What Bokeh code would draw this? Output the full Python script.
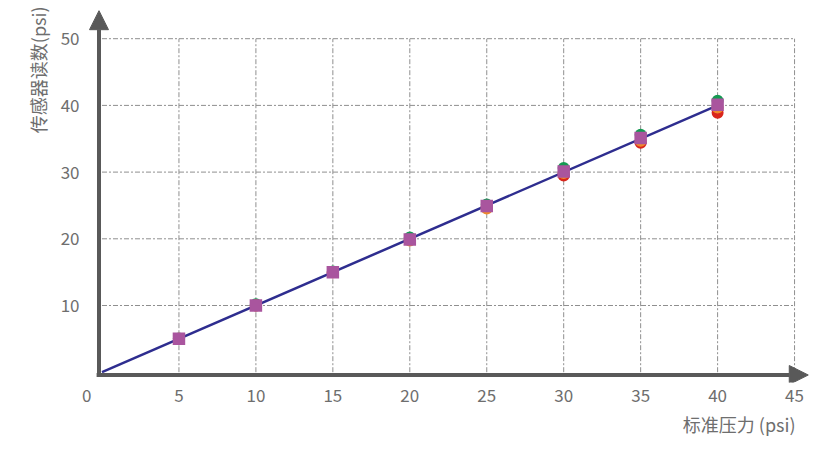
from bokeh.plotting import figure
from bokeh.models import Arrow, NormalHead, Title, FixedTicker
from bokeh.embed import file_html
from bokeh.resources import INLINE

# data
std_pressure = [5, 10, 15, 20, 25, 30, 35, 40]
sensor_green = [5.05, 10.2, 15.1, 20.2, 25.15, 30.6, 35.6, 40.7]
sensor_red = [5.0, 10.0, 15.0, 19.85, 24.8, 29.5, 34.4, 38.9]
sensor_orange = [5.0, 10.0, 15.0, 19.75, 24.55, 29.85, 34.7, 39.7]
sensor_purple = [5.0, 10.0, 15.0, 19.9, 24.9, 30.1, 35.1, 40.1]
fit_x = [0, 40]
fit_y = [0, 40]
x_ticks = [5, 10, 15, 20, 25, 30, 35, 40, 45]
y_ticks = [10, 20, 30, 40, 50]
origin_tick = -1          # position of the origin's "0" label, drawn left of the corner
x_title = "标准压力 (psi)"
y_title = "传感器读数(psi)"

FONT = "Noto Sans CJK SC"
TXT = "#6e6e6e"
AX = "#595959"

p = figure(width=812, height=445, output_backend="svg", toolbar_location=None,
           x_range=(-1.072, 46.166), y_range=(-1.544, 54.528),
           min_border_left=85, min_border_right=0, min_border_top=8, min_border_bottom=63,
           title=None)
p.outline_line_color = None
p.xgrid.visible = False
p.ygrid.visible = False

for ax, ticks in ((p.xaxis, [origin_tick] + x_ticks), (p.yaxis, y_ticks)):
    ax.ticker = FixedTicker(ticks=ticks)
    ax.axis_line_color = None
    ax.major_tick_line_color = None
    ax.minor_tick_line_color = None
    ax.major_tick_out = 0
    ax.major_tick_in = 0
    ax.major_label_text_font = FONT
    ax.major_label_text_font_size = "17px"
    ax.major_label_text_color = TXT
p.xaxis.major_label_overrides = {origin_tick: "0"}
p.xaxis.major_label_standoff = 6
p.yaxis.major_label_standoff = 6

# grid
gx_top = max(y_ticks)
gx_right = max(x_ticks)
p.segment(x0=x_ticks, y0=[0] * len(x_ticks), x1=x_ticks, y1=[gx_top] * len(x_ticks),
          line_color="#8f8f8f", line_width=1, line_dash="5 2 2 2")
p.segment(x0=[0] * len(y_ticks), y0=y_ticks, x1=[gx_right] * len(y_ticks), y1=y_ticks,
          line_color="#8f8f8f", line_width=1, line_dash="5 2 2 2")

# fit line
p.line(fit_x, fit_y, line_color="#2e2d8f", line_width=2.5)

# markers
p.scatter(std_pressure, sensor_green, marker="circle", size=12, fill_color="#149a52", line_color=None)
p.scatter(std_pressure, sensor_red, marker="circle", size=12, fill_color="#d9261c", line_color=None)
p.scatter(std_pressure, sensor_orange, marker="circle", size=12, fill_color="#f08a2c", line_color=None)
p.scatter(std_pressure, sensor_purple, marker="square", size=12.5, fill_color="#a9559e", line_color=None)

# axes arrows
p.add_layout(Arrow(end=NormalHead(size=19, fill_color=AX, line_color=AX),
                   x_start=-0.195, y_start=-0.72, x_end=-0.195, y_end=54.2,
                   line_color=AX, line_width=4))
p.add_layout(Arrow(end=NormalHead(size=19, fill_color=AX, line_color=AX),
                   x_start=-0.35, y_start=-0.42, x_end=45.89, y_end=-0.42,
                   line_color=AX, line_width=4))

# axis titles
p.add_layout(Title(text=x_title, align="right", offset=17, standoff=9, text_font=FONT,
                   text_font_size="18px", text_font_style="normal", text_color=TXT), "below")
p.add_layout(Title(text=y_title, align="right", offset=-2, standoff=13, text_font=FONT,
                   text_font_size="18px", text_font_style="normal", text_color=TXT), "left")

open("out.html", "w").write(file_html(p, INLINE))
